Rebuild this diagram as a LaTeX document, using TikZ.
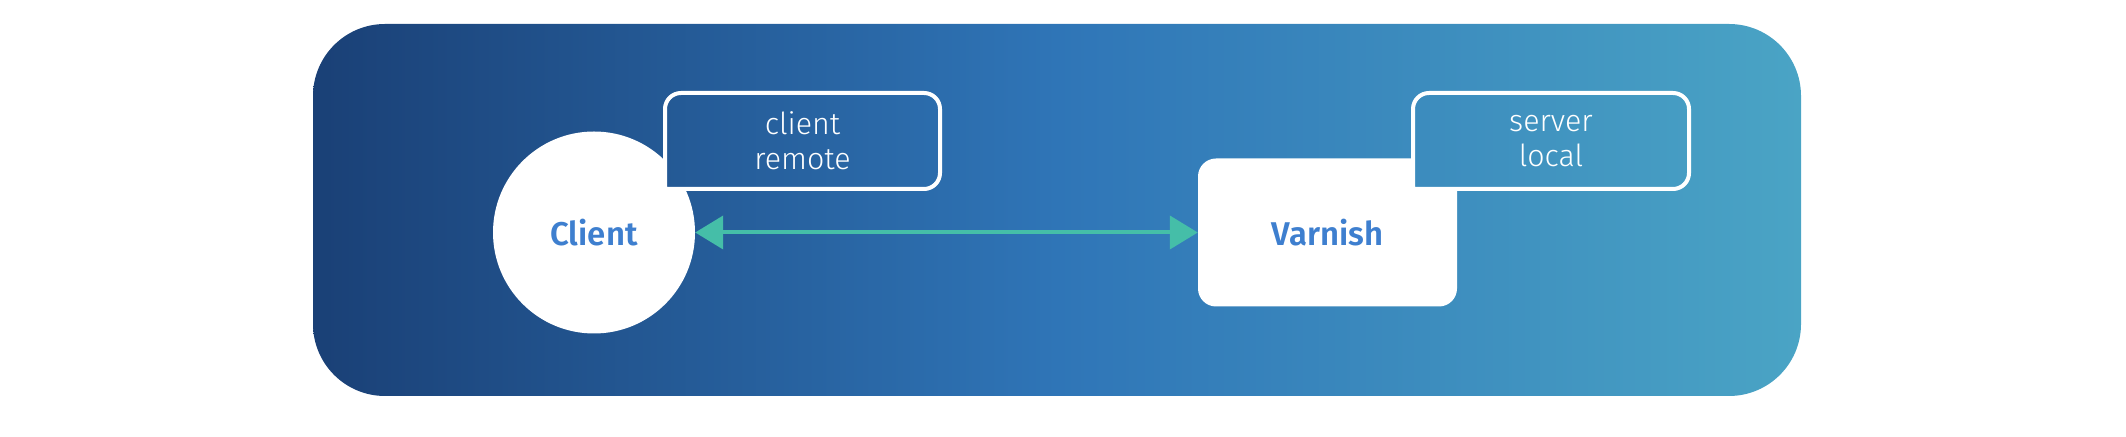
\documentclass[tikz,border=0pt]{standalone}
\usepackage{fontspec}
\setmainfont{Fira Sans}[BoldFont={Fira Sans SemiBold}]
\newfontfamily\lightfont{Fira Sans Light}
\usetikzlibrary{arrows.meta}
\definecolor{bgA}{RGB}{26,64,118}
\definecolor{bgB}{RGB}{47,117,183}
\definecolor{bgC}{RGB}{74,164,197}
\definecolor{txtblue}{RGB}{62,127,207}
\definecolor{teal}{RGB}{69,190,168}
\pgfdeclarehorizontalshading{bgshade}{100bp}{color(0bp)=(bgA); color(25bp)=(bgA); color(50bp)=(bgB); color(75bp)=(bgC); color(100bp)=(bgC)}
\tikzset{
  mainnode/.style={fill=white, text=txtblue, font=\bfseries\fontsize{33}{40}\selectfont, inner sep=0pt},
  labeltext/.style={text=white, font=\lightfont\fontsize{30.5}{35}\selectfont, align=center, inner sep=0pt},
  frame/.style={draw=white, line width=4bp},
  conn/.style={draw=teal, line width=4bp, {Triangle[length=28bp,width=33bp]}-{Triangle[length=28bp,width=33bp]}},
}
\begin{document}
\begin{tikzpicture}[x=1bp,y=1bp]
\useasboundingbox (0,0) rectangle (2126,437);
% background
\shade[shading=bgshade, rounded corners=72bp] (313,41) rectangle (1801,413);
% client circle
\node[mainnode, circle, minimum size=202bp] (client) at (594,204.5) {Client};
% client label box
\begin{scope}
\clip (665,248) -- (665,328) arc[start angle=180,end angle=90,radius=16] -- (924,344) arc[start angle=90,end angle=0,radius=16] -- (940,264) arc[start angle=0,end angle=-90,radius=16] -- cycle;
\shade[shading=bgshade, rounded corners=72bp] (313,41) rectangle (1801,413);
\end{scope}
\draw[frame] (665,248) -- (665,328) arc[start angle=180,end angle=90,radius=16] -- (924,344) arc[start angle=90,end angle=0,radius=16] -- (940,264) arc[start angle=0,end angle=-90,radius=16] -- cycle;
\node[labeltext] (clab) at (802.5,296) {client\\remote};
% varnish box
\node[mainnode, rectangle, rounded corners=18bp, minimum width=259bp, minimum height=148bp] (varnish) at (1327.5,204.5) {Varnish};
% server label box
\begin{scope}
\clip (1413,248) -- (1413,328) arc[start angle=180,end angle=90,radius=16] -- (1673,344) arc[start angle=90,end angle=0,radius=16] -- (1689,264) arc[start angle=0,end angle=-90,radius=16] -- cycle;
\shade[shading=bgshade, rounded corners=72bp] (313,41) rectangle (1801,413);
\end{scope}
\draw[frame] (1413,248) -- (1413,328) arc[start angle=180,end angle=90,radius=16] -- (1673,344) arc[start angle=90,end angle=0,radius=16] -- (1689,264) arc[start angle=0,end angle=-90,radius=16] -- cycle;
\node[labeltext] (slab) at (1551,296) {server\\local};
% connector
\draw[conn] (client) -- (varnish);
\end{tikzpicture}
\end{document}
